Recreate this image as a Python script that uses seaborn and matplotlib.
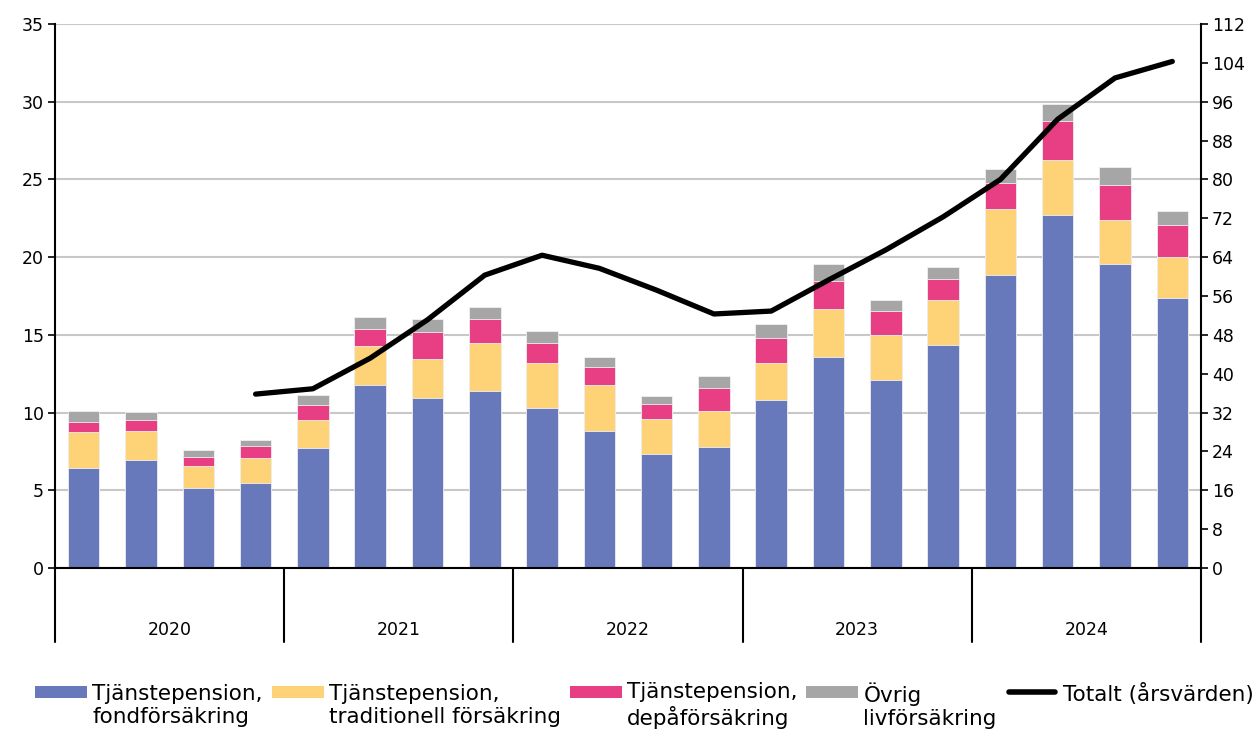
import numpy as np
import pandas as pd
import seaborn as sns
import matplotlib.pyplot as plt
from matplotlib.patches import Patch, Rectangle
from matplotlib.lines import Line2D
from matplotlib.legend_handler import HandlerBase

# Quarterly premiums (bn SEK), 2020 Q1 - 2024 Q4
quarters = [f"{y}K{q}" for y in range(2020, 2025) for q in range(1, 5)]
years = ["2020", "2021", "2022", "2023", "2024"]

fond = [6.45, 6.95, 5.15, 5.47, 7.74, 11.78, 10.92, 11.41, 10.27, 8.81,
        7.36, 7.77, 10.81, 13.6, 12.08, 14.37, 18.86, 22.74, 19.53, 17.4]
trad = [2.32, 1.86, 1.39, 1.63, 1.8, 2.5, 2.55, 3.07, 2.94, 2.97,
        2.25, 2.35, 2.4, 3.07, 2.89, 2.9, 4.21, 3.53, 2.84, 2.59]
depa = [0.64, 0.73, 0.6, 0.77, 0.93, 1.12, 1.73, 1.56, 1.29, 1.15,
        0.96, 1.48, 1.61, 1.8, 1.55, 1.31, 1.73, 2.5, 2.26, 2.06]
ovrig = [0.69, 0.48, 0.43, 0.34, 0.68, 0.75, 0.8, 0.77, 0.75, 0.63,
         0.52, 0.73, 0.88, 1.09, 0.73, 0.81, 0.89, 1.09, 1.15, 0.92]

# Annual totals (right axis), from 2020 Q4
total = [35.8, 36.9, 43.2, 51.1, 60.3, 64.4, 61.7, 57.2, 52.3, 52.9,
         59.3, 65.5, 72.3, 80.0, 92.4, 100.9, 104.3]

colors = ["#6779BA", "#FED377", "#E83E84", "#A6A6A6"]
labels = ["Tjänstepension,\nfondförsäkring",
          "Tjänstepension,\ntraditionell försäkring",
          "Tjänstepension,\ndepåförsäkring",
          "Övrig\nlivförsäkring",
          "Totalt (årsvärden)\n "]

df = pd.DataFrame({"kvartal": quarters, "fond": fond, "trad": trad,
                   "depa": depa, "ovrig": ovrig})
cum = df[["fond", "trad", "depa", "ovrig"]].cumsum(axis=1)


# legend handles sitting on the first text line
class TopPatch(HandlerBase):
    def create_artists(self, legend, orig_handle, xdescent, ydescent,
                       width, height, fontsize, trans):
        r = Rectangle((-xdescent, 0.70 * fontsize), width, 0.56 * fontsize,
                      facecolor=orig_handle.get_facecolor(), edgecolor="none",
                      transform=trans)
        return [r]


class TopLine(HandlerBase):
    def create_artists(self, legend, orig_handle, xdescent, ydescent,
                       width, height, fontsize, trans):
        y = 0.98 * fontsize
        l = Line2D([-xdescent + 2, -xdescent + width - 2], [y, y],
                   color="black", linewidth=4, solid_capstyle="round",
                   transform=trans)
        return [l]


sns.set_style("white")
plt.rcParams["font.family"] = ["DejaVu Sans"]
plt.rcParams["text.color"] = "black"
plt.rcParams["ytick.color"] = "black"
plt.rcParams["xtick.color"] = "black"

fig, ax = plt.subplots(figsize=(12.57, 7.29), dpi=100)
fig.subplots_adjust(left=0.0438, right=0.9554, top=0.967, bottom=0.2209)

ax.set_axisbelow(True)
ax.yaxis.grid(True, color="#C8C8C8", linewidth=1.5)

# stacked bars: draw cumulative layers from top to bottom
for col, c in zip(["ovrig", "depa", "trad", "fond"], colors[::-1]):
    sns.barplot(x=df["kvartal"], y=cum[col], color=c, saturation=1,
                width=0.55, edgecolor="#F0F0F0", linewidth=0.6, ax=ax)

ax.set_ylim(0, 35)
ax.set_yticks(np.arange(0, 36, 5))
ax.set_xlim(-0.5, 19.5)
ax.set_xlabel("")
ax.set_ylabel("")
ax.tick_params(axis="x", length=0, labelbottom=False)
ax.tick_params(axis="y", length=5, width=1.2, color="black", labelcolor="black",
               labelsize=12.5, pad=3, left=True)

for s in ["left", "bottom"]:
    ax.spines[s].set_color("black")
    ax.spines[s].set_linewidth(1.5)
ax.spines["top"].set_visible(False)
ax.spines["right"].set_visible(False)

# year separators and labels below the axis
for i in range(6):
    xb = -0.5 + 4 * i
    ax.add_line(Line2D([xb, xb], [0, -0.136], color="black", linewidth=1.5,
                       transform=ax.get_xaxis_transform(), clip_on=False))
for i, yr in enumerate(years):
    ax.text(1.5 + 4 * i, -0.114, yr, transform=ax.get_xaxis_transform(),
            ha="center", va="center", fontsize=12.5, color="black")

ax2 = ax.twinx()
sns.lineplot(x=np.arange(3, 20), y=total, color="black", linewidth=3.8, ax=ax2)
ax2.set_ylim(0, 112)
ax2.set_yticks(np.arange(0, 113, 8))
ax2.set_xlim(-0.5, 19.5)
ax2.set_ylabel("")
ax2.tick_params(axis="y", length=5, width=1.2, color="black", labelcolor="black",
                labelsize=12.5, pad=3, right=True)
for s in ["top", "left", "bottom"]:
    ax2.spines[s].set_visible(False)
ax2.spines["right"].set_color("black")
ax2.spines["right"].set_linewidth(1.5)

handles = [Patch(facecolor=c) for c in colors]
line_handle = Line2D([0], [0], color="black")
handles.append(line_handle)
hmap = {h: TopPatch() for h in handles[:4]}
hmap[line_handle] = TopLine()
fig.legend(handles, labels, loc="upper left", handler_map=hmap,
           bbox_to_anchor=(35 / 1257, 1 - 682 / 729), ncol=5, frameon=False,
           fontsize=15.5, handlelength=2.42, handleheight=0.7,
           handletextpad=0.23, columnspacing=0.42, borderpad=0,
           borderaxespad=0, labelcolor="black")

fig.savefig("out.png", dpi=100)
